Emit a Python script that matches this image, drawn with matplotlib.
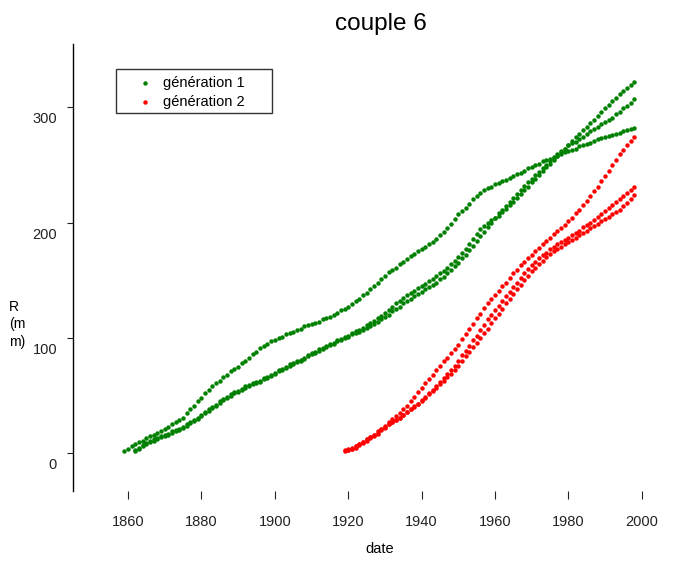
import numpy as np
import matplotlib.pyplot as plt
from matplotlib.transforms import ScaledTranslation
from matplotlib.patches import Rectangle
from matplotlib.lines import Line2D

plt.rcParams['font.family'] = ['Liberation Sans', 'DejaVu Sans']

# génération 1 (three trees)
years_a = np.arange(1859, 1999)
r_a = [2, 4, 6, 8, 10, 11, 13, 15, 16, 18,
       19, 21, 23, 25, 27, 29, 31, 35, 38, 41,
       45, 48, 52, 55, 58, 61, 63, 66, 68, 71,
       73, 75, 78, 80, 83, 86, 88, 91, 93, 95,
       97, 98, 100, 101, 103, 104, 105, 107, 108, 110,
       111, 112, 113, 114, 116, 117, 118, 120, 122, 124,
       125, 127, 129, 132, 134, 137, 139, 142, 145, 148,
       151, 154, 157, 159, 161, 164, 166, 168, 171, 173,
       175, 177, 179, 181, 183, 186, 189, 192, 195, 199,
       203, 207, 210, 213, 216, 220, 223, 226, 228, 230,
       231, 233, 234, 236, 237, 239, 240, 242, 243, 245,
       247, 248, 250, 251, 253, 254, 255, 257, 258, 259,
       261, 262, 263, 264, 266, 267, 268, 269, 271, 272,
       273, 274, 275, 276, 277, 278, 279, 280, 281, 282]

years_b = np.arange(1862, 1999)
r_b = [3, 5, 7, 9, 11, 12, 13, 15, 16, 17,
       19, 20, 21, 23, 25, 27, 29, 31, 33, 36,
       38, 40, 42, 45, 47, 49, 51, 53, 54, 56,
       58, 59, 61, 62, 63, 65, 66, 68, 70, 72,
       73, 75, 77, 78, 80, 81, 83, 85, 87, 88,
       90, 91, 93, 95, 96, 98, 99, 101, 102, 104,
       106, 107, 109, 111, 113, 115, 117, 119, 122, 124,
       127, 130, 132, 135, 137, 139, 141, 143, 145, 147,
       149, 151, 154, 156, 158, 161, 164, 167, 170, 174,
       177, 181, 186, 190, 194, 197, 200, 202, 204, 206,
       209, 212, 215, 218, 221, 225, 228, 231, 235, 238,
       241, 245, 248, 251, 254, 258, 261, 264, 267, 271,
       274, 277, 280, 283, 286, 289, 292, 296, 299, 302,
       305, 308, 311, 314, 317, 319, 322]

years_c = np.arange(1862, 1999)
r_c = [2, 4, 6, 8, 10, 11, 12, 14, 15, 16,
       18, 19, 20, 22, 24, 26, 28, 30, 32, 35,
       37, 39, 41, 44, 46, 48, 50, 52, 53, 55,
       57, 58, 60, 61, 62, 64, 65, 67, 69, 71,
       72, 74, 76, 77, 79, 80, 82, 84, 86, 87,
       89, 90, 92, 94, 95, 97, 98, 100, 101, 103,
       104, 105, 107, 109, 110, 112, 114, 116, 118, 120,
       123, 125, 127, 130, 132, 134, 136, 138, 140, 142,
       144, 146, 148, 151, 153, 156, 159, 162, 165, 169,
       172, 176, 180, 184, 188, 192, 196, 200, 204, 208,
       211, 214, 218, 221, 225, 228, 232, 235, 238, 241,
       244, 247, 250, 253, 256, 259, 262, 264, 267, 269,
       270, 272, 274, 277, 279, 281, 283, 285, 287, 289,
       291, 294, 296, 299, 301, 304, 307]

# génération 2 (three trees)
years_d = np.arange(1919, 1999)
r_d = [3, 4, 5, 6, 8, 10, 12, 14, 16, 18,
       21, 24, 27, 30, 32, 35, 38, 41, 45, 49,
       53, 57, 61, 64, 68, 72, 76, 80, 83, 87,
       90, 94, 99, 103, 108, 112, 117, 121, 126, 130,
       134, 137, 141, 145, 148, 152, 156, 159, 163, 166,
       169, 172, 175, 178, 181, 184, 187, 190, 193, 195,
       198, 201, 204, 208, 211, 215, 219, 223, 227, 231,
       236, 240, 245, 250, 254, 259, 263, 267, 271, 274]

years_e = np.arange(1919, 1999)
r_e = [2, 3, 4, 5, 7, 9, 11, 13, 15, 17,
       20, 22, 25, 27, 29, 31, 33, 36, 38, 41,
       43, 46, 49, 52, 55, 58, 62, 65, 69, 72,
       76, 80, 85, 89, 93, 98, 102, 107, 111, 116,
       120, 124, 128, 132, 136, 140, 144, 148, 152, 156,
       160, 163, 166, 169, 172, 174, 177, 179, 181, 183,
       185, 187, 189, 191, 193, 196, 198, 200, 202, 205,
       207, 210, 213, 215, 218, 220, 223, 226, 228, 231]

years_f = np.arange(1920, 1999)
r_f = [3, 4, 6, 8, 10, 12, 14, 16, 19, 21,
       23, 25, 27, 29, 31, 33, 36, 38, 40, 43,
       45, 48, 51, 54, 57, 60, 63, 66, 69, 72,
       76, 80, 84, 88, 92, 96, 100, 104, 108, 113,
       117, 121, 125, 130, 134, 138, 142, 146, 150, 154,
       158, 161, 164, 167, 170, 173, 175, 177, 179, 181,
       183, 185, 187, 189, 191, 193, 195, 197, 199, 201,
       203, 205, 207, 209, 211, 214, 217, 220, 224]

gen1 = [(years_a, r_a), (years_b, r_b), (years_c, r_c)]
gen2 = [(years_d, r_d), (years_e, r_e), (years_f, r_f)]
x_ticks = [1860, 1880, 1900, 1920, 1940, 1960, 1980, 2000]
y_ticks = [0, 100, 200, 300]

W, H = 684, 562
fig = plt.figure(figsize=(W / 100, H / 100), dpi=100)
ax = fig.add_axes([73 / W, (H - 491) / H, 611 / W, 447 / H])

green = '#008000'
red = '#ff0000'
for yr, r in gen1:
    ax.plot(yr, r, 'o', ms=3.2, mew=0, color=green)
for yr, r in gen2:
    ax.plot(yr, r, 'o', ms=3.2, mew=0, color=red)

ax.set_xlim(1845.0, 2011.5)
ax.set_ylim(-32.7, 354.7)
for s in ['top', 'right', 'bottom']:
    ax.spines[s].set_visible(False)
ax.spines['left'].set_linewidth(1.0)

ax.set_xticks(x_ticks)
ax.set_yticks(y_ticks)
ax.tick_params(axis='x', length=5.5, width=0.8, pad=12, labelsize=10.5, colors='#222222')
ax.tick_params(axis='y', length=4.5, width=0.8, pad=7, labelsize=10.5, colors='#222222')

# R-style: y labels sit a bit below their ticks
shift = ScaledTranslation(0, -10.7 / 100, fig.dpi_scale_trans)
for lab in ax.get_yticklabels():
    lab.set_transform(lab.get_transform() + shift)

fig.text(381 / W, (H - 30) / H, 'couple 6', ha='center', va='baseline', fontsize=17.5)
fig.text(380 / W, (H - 553) / H, 'date', ha='center', va='baseline', fontsize=10.5)
fig.text(9 / W, (H - 300) / H, 'R\n(m\nm)', ha='left', va='top', fontsize=10, linespacing=1.3)

# legend box
fig.patches.append(Rectangle((116 / W, (H - 113.3) / H), 155.7 / W, 44 / H,
                             transform=fig.transFigure, fill=False, lw=1.0, ec='#333333'))
for yy, col, txt in [(83.3, green, 'génération 1'), (101.7, red, 'génération 2')]:
    fig.lines.append(Line2D([145 / W], [(H - yy) / H], marker='o', ms=3.2, mew=0,
                            color=col, transform=fig.transFigure))
    fig.text(163 / W, (H - yy) / H, txt, ha='left', va='center', fontsize=10.5)

fig.savefig('out.png', dpi=100)
